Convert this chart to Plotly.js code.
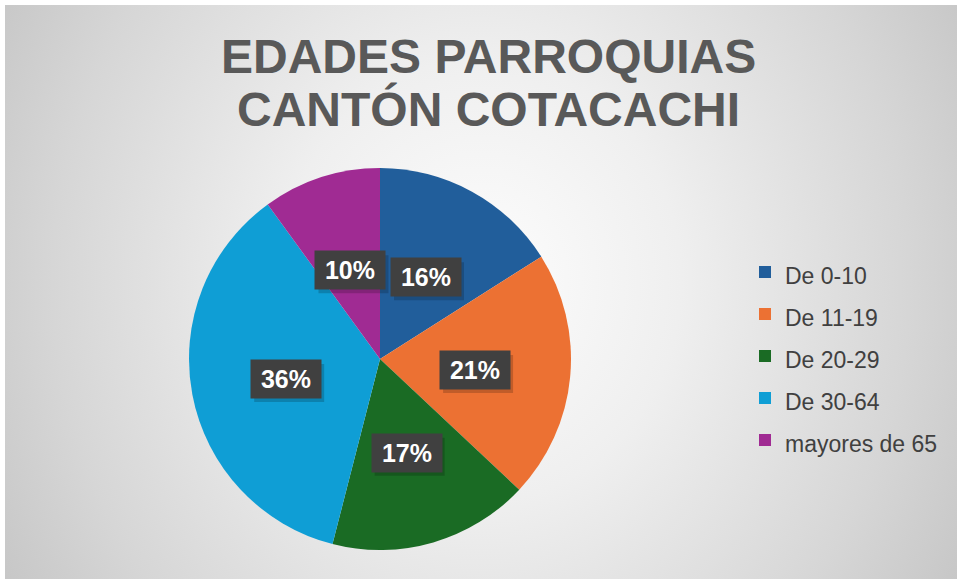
<!DOCTYPE html>
<html>
<head>
<meta charset="utf-8">
<script src="https://cdn.plot.ly/plotly-3.0.1.min.js"></script>
<style>
  html, body { margin: 0; padding: 0; background: #ffffff; }
  #bg { position: absolute; left: 5px; top: 5px; width: 952px; height: 574px;
        background: radial-gradient(ellipse 60% 110% at 50% 48%, #fdfdfd 0%, #efefef 35%, #d6d6d6 75%, #c4c4c4 100%); }
  #chart { position: absolute; left: 0; top: 0; width: 957px; height: 579px; }
</style>
</head>
<body>
<div id="bg"></div>
<div id="chart"></div>
<script>
// ---- data ----
const categories = ["De 0-10", "De 11-19", "De 20-29", "De 30-64", "mayores de 65"];
const values = [16, 21, 17, 36, 10];
const colors = ["#215E9B", "#EC7133", "#1A6B24", "#0F9ED5", "#A02B93"];
const titleLines = ["EDADES PARROQUIAS", "CANTÓN COTACACHI"];

// ---- layout constants ----
const W = 957, H = 579;
const pieDomX = [189 / W, 571 / W];
const pieDomY = [1 - 550 / H, 1 - 168 / H];
const FONT = "Liberation Sans, Arial, sans-serif";
const BOX_W = 70, BOX_H = 38;

const total = values.reduce((a, b) => a + b, 0);

// label positions from slice mid-angles (clockwise from 12 o'clock)
const cxPx = (pieDomX[0] + pieDomX[1]) / 2 * W;
const cyPx = (1 - (pieDomY[0] + pieDomY[1]) / 2) * H;
const rPx = Math.min((pieDomX[1] - pieDomX[0]) * W, (pieDomY[1] - pieDomY[0]) * H) / 2;

const annotations = [];
const shapes = [];
let cum = 0;
values.forEach((v, i) => {
  const mid = (cum + v / 2) / total;
  cum += v;
  const th = 2 * Math.PI * mid;
  const px = cxPx + 0.5 * rPx * Math.sin(th);
  const py = cyPx - 0.5 * rPx * Math.cos(th) + 2;
  const pct = Math.round(v / total * 100) + "%";
  // soft shadow behind the label box
  shapes.push({
    type: "rect", xref: "paper", yref: "paper", layer: "above",
    x0: (px - BOX_W / 2 + 3) / W, x1: (px + BOX_W / 2 + 3) / W,
    y0: 1 - (py + BOX_H / 2 + 4) / H, y1: 1 - (py - BOX_H / 2 + 4) / H,
    fillcolor: "rgba(0,0,0,0.18)", line: { width: 0 }
  });
  annotations.push({
    xref: "paper", yref: "paper", x: px / W, y: 1 - py / H,
    xanchor: "center", yanchor: "middle",
    text: "<b>" + pct + "</b>", showarrow: false, width: BOX_W, height: BOX_H,
    font: { family: FONT, size: 25, color: "#ffffff" },
    bgcolor: "#404040", borderpad: 0
  });
});

// title lines
const titleY = [56, 109];
titleLines.forEach((t, i) => {
  annotations.push({
    xref: "paper", yref: "paper", x: 488 / W, y: 1 - titleY[i] / H,
    xanchor: "center", yanchor: "middle",
    text: "<b>" + t + "</b>", showarrow: false,
    font: { family: FONT, size: 48, color: "#595959" }
  });
});

const legendLabels = categories.map(c => '<span style="font-size:23px">' + c + '</span>');

const trace = {
  type: "pie",
  labels: legendLabels,
  values: values,
  marker: { colors: colors, line: { width: 0 } },
  sort: false,
  direction: "clockwise",
  rotation: 0,
  textinfo: "none",
  hoverinfo: "label+percent",
  domain: { x: pieDomX, y: pieDomY }
};

const layout = {
  width: W, height: H,
  margin: { l: 0, r: 0, t: 0, b: 0 },
  paper_bgcolor: "rgba(0,0,0,0)",
  plot_bgcolor: "rgba(0,0,0,0)",
  showlegend: true,
  legend: {
    x: 745 / W, xanchor: "left",
    y: 1 - 246 / H, yanchor: "top",
    font: { family: FONT, size: 30, color: "#404040" },
    bgcolor: "rgba(0,0,0,0)",
    traceorder: "normal"
  },
  shapes: shapes,
  annotations: annotations
};

Plotly.newPlot("chart", [trace], layout, { displayModeBar: false, staticPlot: true });
</script>
</body>
</html>
